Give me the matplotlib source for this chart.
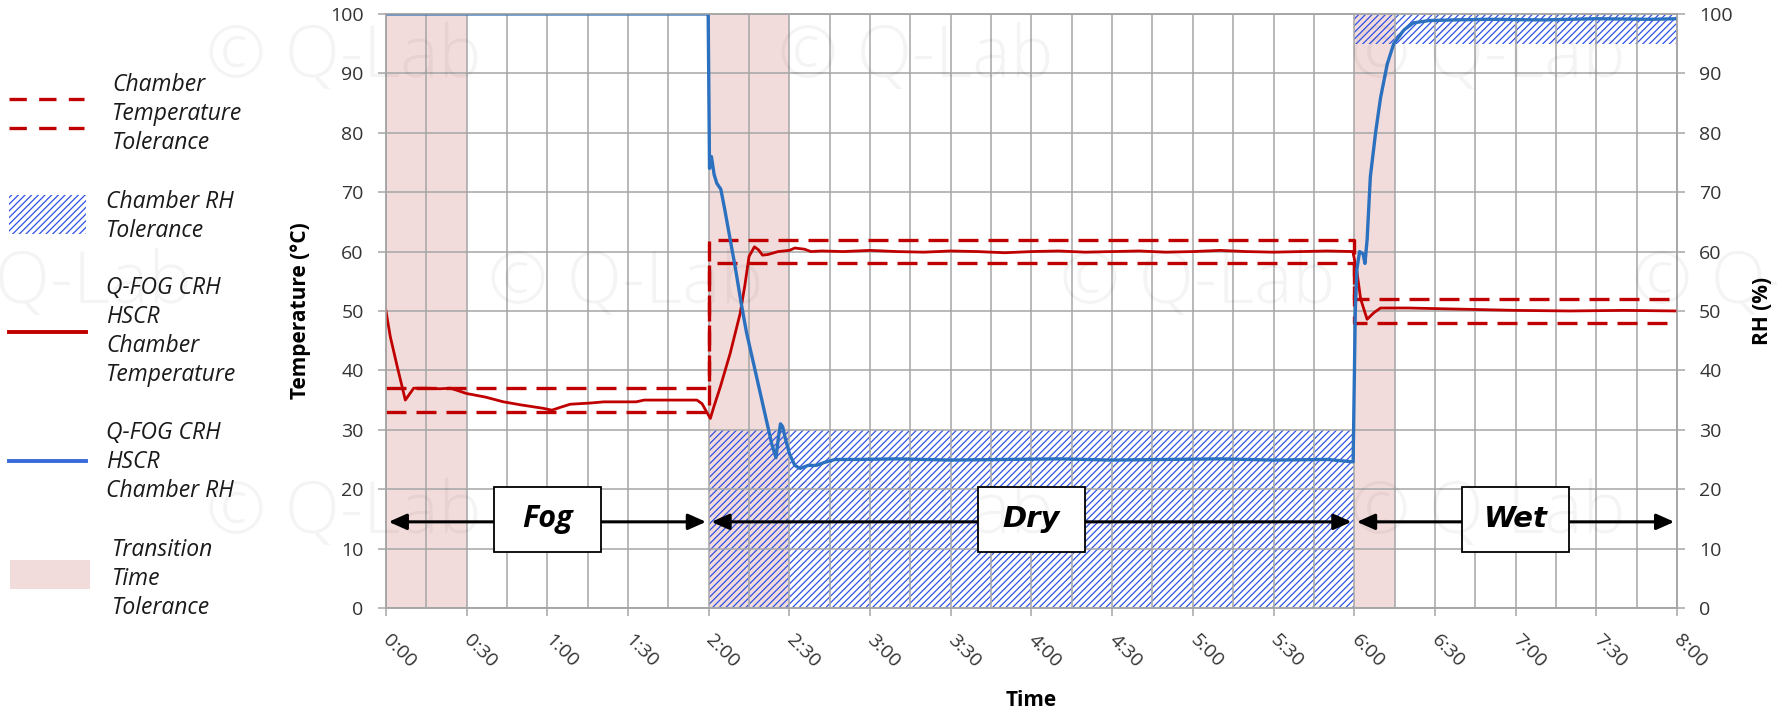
import matplotlib.pyplot as plt
from matplotlib.patches import Rectangle

plt.rcParams['font.family'] = ['Open Sans', 'DejaVu Sans']
plt.rcParams['hatch.linewidth'] = 0.9

# chamber temperature (minutes, deg C)
temp_min = [0, 1.6, 4, 7.2, 10.3, 15, 20, 24, 30, 37,
            43.7, 50, 58.6, 61.7, 65, 68.5, 76, 81, 93, 96,
            105, 115.6, 117.5, 120.6, 122, 124.3, 128, 131.7, 133.5, 135,
            137, 138.5, 140, 142, 145.8, 150, 152, 155.6, 158, 162,
            170, 180, 190, 200, 210, 220, 230, 240, 250, 260,
            270, 280, 290, 300, 310, 320, 330, 340, 350, 359.5,
            361, 362.4, 364.8, 367.3, 369.8, 380, 400, 420, 440, 460,
            480]
temp_c = [50, 45.7, 41, 35, 37, 37, 36.9, 37, 36.1, 35.5,
          34.7, 34.2, 33.6, 33.3, 33.8, 34.3, 34.5, 34.7, 34.7, 35,
          35, 35, 34.4, 31.9, 34, 37.2, 42.9, 49.6, 54.5, 59.2,
          60.8, 60.3, 59.4, 59.5, 60, 60.2, 60.6, 60.4, 60, 60.1,
          60, 60.2, 60, 59.9, 60.1, 60, 59.8, 60, 60.1, 59.9,
          60, 60.1, 59.9, 60, 60.2, 60, 59.9, 60, 60.1, 60,
          56.6, 52, 48.6, 49.7, 50.5, 50.5, 50.3, 50.1, 50, 50.1,
          50]

# chamber RH (minutes, %)
rh_min = [0, 119.8, 120.3, 121, 122, 123, 124.5, 126, 128, 130,
          132, 134, 136, 138, 140, 142, 143.5, 145, 146, 146.7,
          147.5, 148.5, 150, 152, 154, 157, 160, 163, 167, 175,
          190, 210, 230, 250, 270, 290, 310, 330, 350, 359.6,
          360.4, 361, 362, 363.3, 364, 364.8, 366, 368, 369.8, 372.3,
          374.7, 378.5, 382, 388, 397, 410, 430, 450, 470, 480]
rh_pct = [100, 100, 74, 76, 73, 71.5, 70.5, 67, 62, 57,
          51.5, 46.5, 42.5, 38.5, 34.5, 30.5, 27.5, 25.3, 29, 31,
          30.5, 28.5, 26, 24, 23.5, 24, 24, 24.5, 25, 25,
          25.1, 24.9, 25, 25.1, 24.9, 25, 25.1, 24.9, 25, 24.6,
          50, 57, 60, 59.6, 58, 62, 72.6, 80.2, 85.9, 91.6,
          95, 97.3, 98.5, 98.9, 99, 99.1, 99, 99.2, 99.1, 99.2]

# tolerances
tol_min = [0, 120, 360, 480]
tol_upper = [37, 62, 52, 52]
tol_lower = [33, 58, 48, 48]

rh_tol_start = [120, 360]
rh_tol_end = [360, 480]
rh_tol_low = [0, 95]
rh_tol_high = [30, 100]

transition_start = [0, 120, 360]
transition_end = [30, 150, 375]

phase_names = ['Fog', 'Dry', 'Wet']
phase_start = [0, 120, 360]
phase_end = [120, 360, 480]

tick_min = [0, 30, 60, 90, 120, 150, 180, 210, 240, 270, 300, 330, 360, 390, 420, 450, 480]
tick_labels = ['0:00', '0:30', '1:00', '1:30', '2:00', '2:30', '3:00', '3:30', '4:00',
               '4:30', '5:00', '5:30', '6:00', '6:30', '7:00', '7:30', '8:00']

red = '#c00000'
blue = '#2b71c0'
hatch_blue = '#2f50e6'
pink = '#f2dcdb'
grey = '#a6a6a6'
txt = '#333333'

fig = plt.figure(figsize=(17.77, 7.09), dpi=100)
ax = fig.add_axes([0.2172, 0.1425, 0.7265, 0.8378])

for s, e in zip(transition_start, transition_end):
    ax.axvspan(s, e, color=pink, lw=0, zorder=0.5)
for s, e, lo, hi in zip(rh_tol_start, rh_tol_end, rh_tol_low, rh_tol_high):
    ax.fill_between([s, e], [lo, lo], [hi, hi], facecolor='none', edgecolor=hatch_blue,
                    hatch='/////', lw=0, zorder=0.8)

ax.plot(tol_min, tol_upper, drawstyle='steps-post', color=red, lw=2.4, ls=(0, (6, 3)), zorder=3)
ax.plot(tol_min, tol_lower, drawstyle='steps-post', color=red, lw=2.4, ls=(0, (6, 3)), zorder=3)
ax.plot(temp_min, temp_c, color=red, lw=2.0, zorder=4)

# phase arrows and boxes
for name, s, e in zip(phase_names, phase_start, phase_end):
    c = (s + e) / 2
    ax.annotate('', xy=(e - 1, 14.5), xytext=(s + 1, 14.5),
                arrowprops=dict(arrowstyle='<|-|>,head_length=0.9,head_width=0.4',
                                color='black', lw=2.2, mutation_scale=12,
                                shrinkA=0, shrinkB=0), zorder=5)
    ax.add_patch(Rectangle((c - 20, 9.5), 40, 10.8, facecolor='white',
                           edgecolor='black', lw=1.3, zorder=6))
    if name == 'Fog':
        ax.text(c, 14.9, name, ha='center', va='center', fontsize=22,
                fontweight='bold', style='italic', zorder=7)
    else:
        ax.text(c, 14.9, name, ha='center', va='center', fontsize=21,
                fontweight='bold', style='italic', family='DejaVu Sans', zorder=7)

ax.set_xlim(0, 480)
ax.set_ylim(0, 100)
ax.set_xticks(tick_min)
ax.set_xticklabels(tick_labels)
ax.set_xticks(range(0, 481, 15), minor=True)
ax.set_yticks(range(0, 101, 10))
ax.grid(which='both', color=grey, lw=1.1, zorder=1)
ax.tick_params(which='minor', length=0)
ax.tick_params(which='major', length=6, width=1.1, color=grey,
               labelsize=14, labelcolor=txt)
ax.tick_params(axis='y', pad=10)
ax.tick_params(axis='x', pad=15)
for lbl in ax.get_xticklabels():
    lbl.set_rotation(-45)
    lbl.set_ha('left')
    lbl.set_va('center')
    lbl.set_rotation_mode('anchor')
for sp in ax.spines.values():
    sp.set_color(grey)
    sp.set_linewidth(1.1)
ax.set_ylabel('Temperature (°C)', fontsize=15, fontweight='bold', labelpad=14)
ax.set_xlabel('Time', fontsize=15, fontweight='bold', labelpad=14)

ax2 = ax.twinx()
ax2.plot(rh_min, rh_pct, color=blue, lw=2.4)
ax2.set_ylim(0, 100)
ax2.set_yticks(range(0, 101, 10))
ax2.tick_params(length=6, width=1.1, color=grey, labelsize=14, labelcolor=txt, pad=10)
for sp in ax2.spines.values():
    sp.set_color(grey)
    sp.set_linewidth(1.1)
ax2.set_ylabel('RH (%)', fontsize=15, fontweight='bold', labelpad=14)

# overlay in pixel coordinates: legend and watermark
ov = fig.add_axes([0, 0, 1, 1])
ov.set_xlim(0, 1777)
ov.set_ylim(709, 0)
ov.axis('off')

ov.plot([9, 84], [99, 99], color=red, lw=2.4, ls=(0, (5.2, 3.7)))
ov.plot([9, 84], [128, 128], color=red, lw=2.4, ls=(0, (5.2, 3.7)))
ov.add_patch(Rectangle((9, 195), 77, 39, facecolor='none', edgecolor=hatch_blue,
                       hatch='/////', lw=0))
ov.plot([9, 86], [332, 332], color=red, lw=2.8)
ov.plot([9, 86], [461, 461], color='#3a6ad8', lw=2.8)
ov.add_patch(Rectangle((10, 560), 80, 29, facecolor=pink, lw=0))

legend_lines = [['Chamber', 'Temperature', 'Tolerance'],
                ['Chamber RH', 'Tolerance'],
                ['Q-FOG CRH', 'HSCR', 'Chamber', 'Temperature'],
                ['Q-FOG CRH', 'HSCR', 'Chamber RH'],
                ['Transition', 'Time', 'Tolerance']]
legend_x = [112, 106, 106, 106, 112]
legend_y0 = [85, 202, 288, 433, 550]
for lines, x0, y0 in zip(legend_lines, legend_x, legend_y0):
    for i, line in enumerate(lines):
        ov.text(x0, y0 + i * 29, line, fontsize=16.5, style='italic',
                color='#1a1a1a', ha='left', va='center')

wm_rows = [(58, [206, 778, 1350]), (284, [-84, 488, 1060, 1632]), (514, [206, 778, 1350])]
for y, xs in wm_rows:
    for x in xs:
        ov.text(x, y, '© Q-Lab', fontsize=52, color='black', alpha=0.045,
                ha='left', va='center', fontweight='light')

fig.savefig('out.png', dpi=100)
